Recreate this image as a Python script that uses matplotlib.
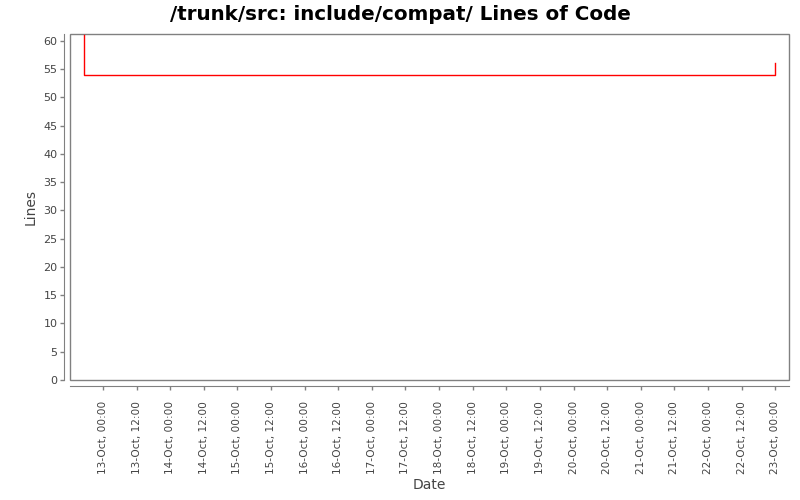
import datetime as dt

import matplotlib
matplotlib.use("Agg")
import matplotlib.pyplot as plt
from matplotlib.patches import Rectangle

# ====== Data ======
dates = [
    dt.datetime(2008, 10, 12, 17, 10),
    dt.datetime(2008, 10, 12, 17, 15),
    dt.datetime(2008, 10, 23, 0, 0),
]
lines = [61, 54, 56]

tick_dates = [dt.datetime(2008, 10, 13) + dt.timedelta(hours=12 * i) for i in range(21)]
tick_labels = [d.strftime("%d-Oct, %H:%M") for d in tick_dates]

GRAY = "#808080"
TXT = "#444444"

fig = plt.figure(figsize=(8, 5), dpi=100)
ax = fig.add_axes([70 / 800, 1 - 380 / 500, 719 / 800, 346 / 500])

ax.step(dates, lines, where="post", color="red", linewidth=1)

ax.margins(x=0.02)
ax.set_ylim(0, 61.2)
ax.set_yticks(range(0, 61, 5))

ax.set_xticks(tick_dates)
ax.set_xticklabels(tick_labels)

# JFreeChart-like frame + offset axis lines
for s in ["top", "right"]:
    ax.spines[s].set_visible(False)
for s in ["left", "bottom"]:
    ax.spines[s].set_position(("outward", 4))
    ax.spines[s].set_color(GRAY)
ax.add_patch(Rectangle((0, 0), 1, 1, transform=ax.transAxes, fill=False,
                       edgecolor=GRAY, linewidth=1, clip_on=False))

ax.tick_params(axis="both", colors=GRAY, labelcolor=TXT, labelsize=8, length=3, width=1)
ax.tick_params(axis="y", pad=2)
ax.tick_params(axis="x", labelrotation=90, labelsize=7.6, pad=8)

ax.set_xlabel("Date", fontsize=10, color=TXT, labelpad=3)
ax.set_ylabel("Lines", fontsize=10, color=TXT)
fig.suptitle("/trunk/src: include/compat/ Lines of Code", fontsize=14.3, fontweight="bold",
             y=1 - 14 / 500, va="center", x=0.5)

fig.savefig("out.png", dpi=100)
